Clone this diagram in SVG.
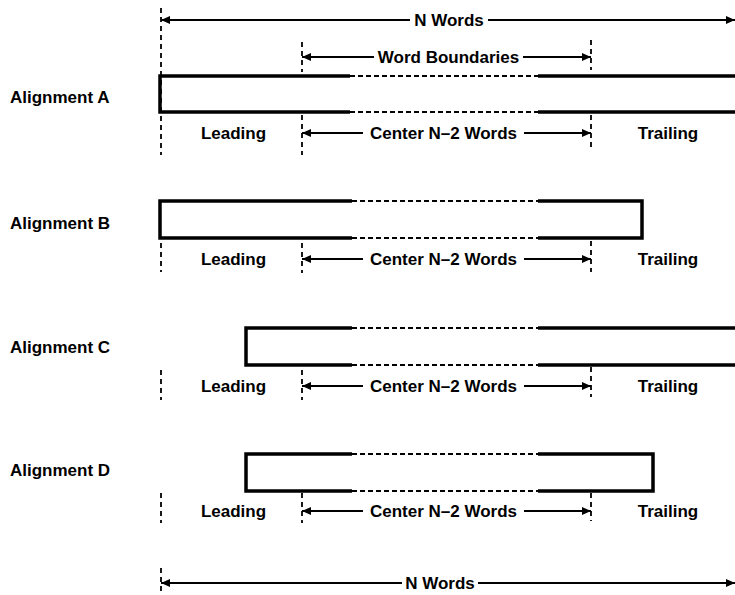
<svg xmlns="http://www.w3.org/2000/svg" width="735" height="595" viewBox="0 0 735 595">
<style>
text{font-family:"Liberation Sans",Arial,sans-serif;font-weight:bold;font-size:17px;fill:#000}
.mid{text-anchor:middle}
.solid{fill:none;stroke:#000;stroke-width:3.5;stroke-linejoin:miter}
.dash{fill:none;stroke:#000;stroke-width:2;stroke-dasharray:5 3}
.guide{fill:none;stroke:#000;stroke-width:1.8;stroke-dasharray:5 4}
.arr{fill:none;stroke:#000;stroke-width:1.8}
.ah{marker-end:url(#head)}
</style>
<defs>
<marker id="head" markerUnits="userSpaceOnUse" markerWidth="9" markerHeight="8" refX="9" refY="4" orient="auto">
<path d="M0,0 L9,4 L0,8 z" fill="#000"/>
</marker>
</defs>
<rect width="735" height="595" fill="#fff"/>

<g id="guides">
<path class="guide" d="M161,8 V155 M302,42 V72 M302,115 V155 M591,40 V70 M591,115 V148"/>
<path class="guide" d="M161,243 V272 M302,243 V273 M591,241 V272"/>
<path class="guide" d="M161,370 V400 M302,370 V400 M591,367 V397"/>
<path class="guide" d="M161,493 V523 M302,493 V523 M591,493 V521"/>
<path class="guide" d="M161,568 V595"/>
</g>

<g id="alignment-a">
<text x="10" y="103">Alignment A</text>
<path class="solid" d="M350,76 H160 V112 H350 M538,76 H735 M538,112 H735"/>
<path class="dash" d="M350,76 H538 M350,112 H538"/>
<text class="mid" x="233.5" y="139">Leading</text>
<text class="mid" x="443.5" y="139">Center N–2 Words</text>
<text class="mid" x="668" y="139">Trailing</text>
</g>

<g id="alignment-b">
<text x="10" y="229">Alignment B</text>
<path class="solid" d="M352,201 H160 V238 H352 M538,201 H642 V238 H538"/>
<path class="dash" d="M352,201 H538 M352,238 H538"/>
<text class="mid" x="233.5" y="265">Leading</text>
<text class="mid" x="443.5" y="265">Center N–2 Words</text>
<text class="mid" x="668" y="265">Trailing</text>
</g>

<g id="alignment-c">
<text x="10" y="353">Alignment C</text>
<path class="solid" d="M352,328 H246 V365 H352 M538,328 H735 M538,365 H735"/>
<path class="dash" d="M352,328 H538 M352,365 H538"/>
<text class="mid" x="233.5" y="392">Leading</text>
<text class="mid" x="443.5" y="392">Center N–2 Words</text>
<text class="mid" x="668" y="392">Trailing</text>
</g>

<g id="alignment-d">
<text x="10" y="476">Alignment D</text>
<path class="solid" d="M352,454 H246 V491 H352 M538,454 H653 V491 H538"/>
<path class="dash" d="M352,454 H538 M352,491 H538"/>
<text class="mid" x="233.5" y="517">Leading</text>
<text class="mid" x="443.5" y="517">Center N–2 Words</text>
<text class="mid" x="668" y="517">Trailing</text>
</g>

<g id="top-labels">
<text class="mid" x="449" y="26">N Words</text>
<text class="mid" x="448.5" y="63">Word Boundaries</text>
<text class="mid" x="440" y="589">N Words</text>
</g>

<g id="connectors">
<line class="arr ah" x1="410" y1="20" x2="161" y2="20"/>
<line class="arr ah" x1="488" y1="20" x2="735" y2="20"/>
<line class="arr ah" x1="374" y1="57" x2="302" y2="57"/>
<line class="arr ah" x1="523" y1="57" x2="591" y2="57"/>
<line class="arr ah" x1="363" y1="133" x2="302" y2="133"/>
<line class="arr ah" x1="524" y1="133" x2="591" y2="133"/>
<line class="arr ah" x1="363" y1="259" x2="302" y2="259"/>
<line class="arr ah" x1="524" y1="259" x2="591" y2="259"/>
<line class="arr ah" x1="363" y1="386" x2="302" y2="386"/>
<line class="arr ah" x1="524" y1="386" x2="591" y2="386"/>
<line class="arr ah" x1="363" y1="511" x2="302" y2="511"/>
<line class="arr ah" x1="524" y1="511" x2="591" y2="511"/>
<line class="arr ah" x1="402" y1="583" x2="161" y2="583"/>
<line class="arr ah" x1="478" y1="583" x2="735" y2="583"/>
</g>
</svg>
